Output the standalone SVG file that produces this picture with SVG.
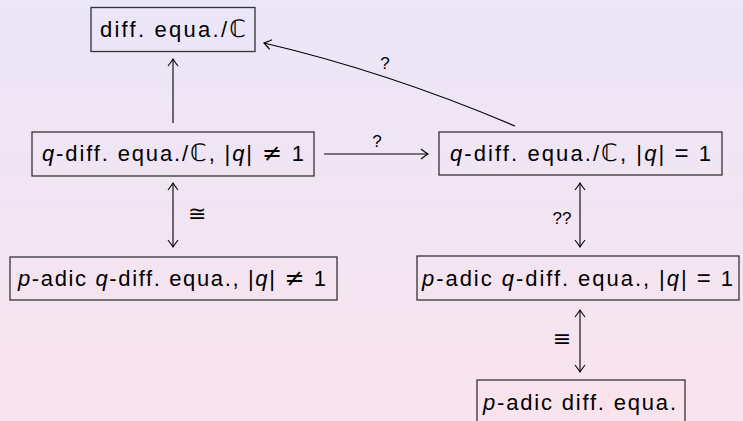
<svg xmlns="http://www.w3.org/2000/svg" width="743" height="421" viewBox="0 0 743 421">
<defs>
<linearGradient id="bg" x1="0" y1="0" x2="0" y2="1">
<stop offset="0" stop-color="#EBE6F9"/>
<stop offset="1" stop-color="#F9E3EC"/>
</linearGradient>
<marker id="ah" markerUnits="userSpaceOnUse" markerWidth="14" markerHeight="14" viewBox="-8 -7 10 14" refX="0" refY="0" orient="auto-start-reverse">
<path d="M -7 -5 Q -2 -1.2 0 0 Q -2 1.2 -7 5" fill="none" stroke="#000" stroke-width="1.1"/>
</marker>
<style>
.box{fill:none;stroke:#333;stroke-width:1.3}
.t{font-family:"Liberation Sans","DejaVu Sans",sans-serif;font-size:22px;fill:#000}
.m{font-family:"DejaVu Sans",sans-serif}
.i{font-style:italic}
.lbl{font-family:"Liberation Sans","DejaVu Sans",sans-serif;font-size:17px;fill:#000}
.c{fill:none;stroke:#000;stroke-width:1.1}
</style>
</defs>
<rect width="743" height="421" fill="url(#bg)"/>
<g id="connectors">
<path class="c" d="M173,123 V59" marker-end="url(#ah)"/>
<path class="c" d="M515,126 Q388,72 264,43" marker-end="url(#ah)"/>
<text class="lbl" x="385" y="69" text-anchor="middle">?</text>
<path class="c" d="M324,154 H428" marker-end="url(#ah)"/>
<text class="lbl" x="377" y="147" text-anchor="middle">?</text>
<path class="c" d="M173,183 V247" marker-start="url(#ah)" marker-end="url(#ah)"/>
<text class="t m" x="188" y="221" font-size="18">≅</text>
<path class="c" d="M580,183 V247" marker-start="url(#ah)" marker-end="url(#ah)"/>
<text class="lbl" x="562" y="224" text-anchor="middle">??</text>
<path class="c" d="M580,310 V372" marker-start="url(#ah)" marker-end="url(#ah)"/>
<text class="t m" x="562" y="346" text-anchor="middle" font-size="18">≡</text>
</g>
<g id="n1">
<rect class="box" x="91" y="7.5" width="164" height="44"/>
<text class="t" x="100" y="37" textLength="146" lengthAdjust="spacing">diff. equa./<tspan class="m" font-size="24">ℂ</tspan></text>
</g>
<g id="n2">
<rect class="box" x="32" y="132" width="282" height="44"/>
<text class="t" x="42" y="161" textLength="262" lengthAdjust="spacing"><tspan class="i">q</tspan>-diff. equa./<tspan class="m" font-size="24">ℂ</tspan>, |<tspan class="i">q</tspan>| <tspan class="m" font-size="24">≠</tspan> 1</text>
</g>
<g id="n3">
<rect class="box" x="439" y="132" width="283" height="43"/>
<text class="t" x="450" y="161" textLength="261" lengthAdjust="spacing"><tspan class="i">q</tspan>-diff. equa./<tspan class="m" font-size="24">ℂ</tspan>, |<tspan class="i">q</tspan>| <tspan font-size="24">=</tspan> 1</text>
</g>
<g id="n4">
<rect class="box" x="10" y="257" width="327" height="43"/>
<text class="t" x="18" y="286" textLength="308" lengthAdjust="spacing"><tspan class="i">p</tspan>-adic <tspan class="i">q</tspan>-diff. equa., |<tspan class="i">q</tspan>| <tspan class="m" font-size="24">≠</tspan> 1</text>
</g>
<g id="n5">
<rect class="box" x="417" y="256" width="322" height="44"/>
<text class="t" x="422" y="286" textLength="311" lengthAdjust="spacing"><tspan class="i">p</tspan>-adic <tspan class="i">q</tspan>-diff. equa., |<tspan class="i">q</tspan>| <tspan font-size="24">=</tspan> 1</text>
</g>
<g id="n6">
<rect class="box" x="477" y="380" width="208" height="50"/>
<text class="t" x="483" y="410" textLength="193" lengthAdjust="spacing"><tspan class="i">p</tspan>-adic diff. equa.</text>
</g>
</svg>
